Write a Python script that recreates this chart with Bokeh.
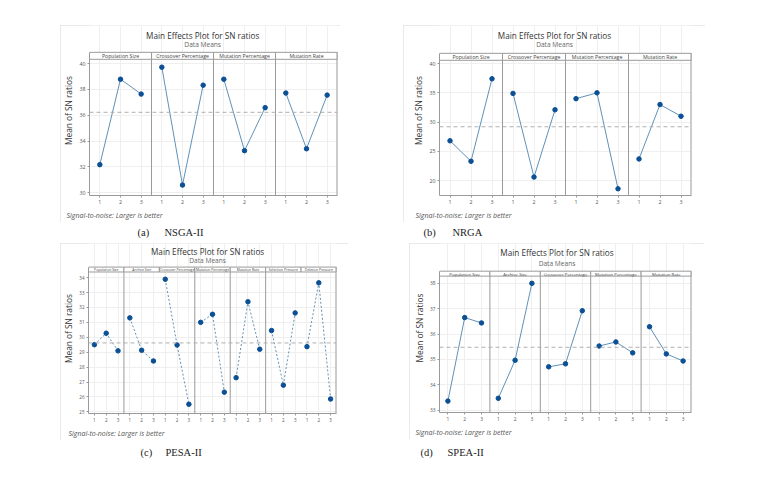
from bokeh.plotting import figure
from bokeh.models import Range1d, FixedTicker, Span, Label, Spacer, Title
from bokeh.layouts import column, row
from bokeh.embed import file_html
from bokeh.resources import INLINE
from bokeh.core.properties import value

# ---------------- data ----------------
levels = [1, 2, 3]

a_factors = ["Population Size", "Crossover Percentage", "Mutation Percentage", "Mutation Rate"]
a_values = [[32.18, 38.79, 37.64], [39.72, 30.60, 38.33], [38.79, 33.26, 36.59], [37.72, 33.41, 37.56]]
a_mean = 36.23
a_yticks = [30, 32, 34, 36, 38, 40]

b_factors = ["Population Size", "Crossover Percentage", "Mutation Percentage", "Mutation Rate"]
b_values = [[26.8, 23.3, 37.4], [34.9, 20.6, 32.1], [34.0, 35.0, 18.6], [23.7, 33.0, 31.0]]
b_mean = 29.2
b_yticks = [20, 25, 30, 35, 40]

c_factors = ["Population Size", "Archive Size", "Crossover Percentage", "Mutation Percentage",
             "Mutation Rate", "Selection Pressure", "Deletion Pressure"]
c_values = [[29.50, 30.27, 29.09], [31.30, 29.13, 28.41], [33.89, 29.48, 25.51], [31.00, 31.54, 26.32],
            [27.29, 32.38, 29.20], [30.45, 26.79, 31.63], [29.37, 33.65, 25.86]]
c_mean = 29.62
c_yticks = [25, 26, 27, 28, 29, 30, 31, 32, 33, 34]

d_factors = ["Population Size", "Archive Size", "Crossover Percentage", "Mutation Percentage", "Mutation Rate"]
d_values = [[33.36, 36.65, 36.44], [33.47, 34.97, 38.00], [34.71, 34.83, 36.92], [35.53, 35.69, 35.26],
            [36.29, 35.22, 34.94]]
d_mean = 35.48
d_yticks = [33, 34, 35, 36, 37, 38]

title_text = "Main Effects Plot for SN ratios"
subtitle_text = "Data Means"
ylabel_text = "Mean of SN ratios"
foot_text = "Signal-to-noise: Larger is better"
captions = [("(a)", "NSGA-II"), ("(b)", "NRGA"), ("(c)", "PESA-II"), ("(d)", "SPEA-II")]

FONT = "Open Sans"
LINE_C = "#5f92b8"
MARK_C = "#0b4f94"
FRAME_C = "#9a9a9a"


def make_card(factors, values, mean, yticks, W, H, bl, br, bb, anchor, head_top, head_h,
              dotted, seps, title_px, sub_px, foot_x, head_fs, tick_fs="5px", foot_standoff=5):
    # anchor: ((valueA, pxA), (valueB, pxB)) -- pixel rows measured from card top
    (vA, pA), (vB, pB) = anchor
    ppu = (pB - pA) / (vA - vB)

    def yv(px):
        return vA - (px - pA) / ppu

    ytop = yv(0)
    ybot = yv(H - bb)
    yht = yv(head_top)
    yhb = yv(head_top + head_h)

    n = len(factors)
    xend = 3 * n + 0.5
    p = figure(width=W, height=H, x_range=Range1d(0.5, xend), y_range=Range1d(ybot, ytop),
               toolbar_location=None, output_backend="svg",
               min_border_left=bl, min_border_right=br, min_border_top=0, min_border_bottom=bb)
    p.styles = {"outline": "1px solid #e2e2e2", "outline-offset": "-1px"}
    p.background_fill_color = "white"
    p.border_fill_color = "white"
    p.outline_line_color = None

    xt = [3 * k + j for k in range(n) for j in levels]
    p.xaxis.ticker = FixedTicker(ticks=xt)
    p.xaxis.major_label_overrides = {3 * k + j: str(j) for k in range(n) for j in levels}
    p.yaxis.ticker = FixedTicker(ticks=yticks)
    p.yaxis.bounds = (ybot, yht)
    p.xgrid.ticker = FixedTicker(ticks=xt)
    p.xgrid.bounds = (ybot, yhb)
    p.ygrid.ticker = FixedTicker(ticks=yticks)
    p.grid.grid_line_color = "#efefef"
    p.grid.grid_line_width = 1

    for ax in (p.xaxis[0], p.yaxis[0]):
        ax.axis_line_color = FRAME_C
        ax.major_tick_line_color = FRAME_C
        ax.minor_tick_line_color = None
        ax.major_tick_out = 2
        ax.major_tick_in = 0
        ax.major_label_standoff = 2
        ax.major_label_text_font = FONT
        ax.major_label_text_font_size = tick_fs
        ax.major_label_text_color = "#555555"
    p.yaxis.axis_label = ylabel_text
    p.yaxis.axis_label_text_font = FONT
    p.yaxis.axis_label_text_font_size = "8.3px"
    p.yaxis.axis_label_text_font_style = "normal"
    p.yaxis.axis_label_text_color = "#333333"
    p.yaxis.axis_label_standoff = 2

    # reference line
    p.add_layout(Span(location=mean, dimension="width", line_color="#b0b0b0",
                      line_dash="4 3", line_width=1))

    # header strips
    p.quad(left=[3 * k + 0.5 for k in range(n)], right=[3 * k + 3.5 for k in range(n)],
           bottom=[yhb] * n, top=[yht] * n, fill_color="white", line_color=FRAME_C, line_width=1)
    p.text(x=[3 * k + 2 for k in range(n)], y=[(yhb + yht) / 2] * n, text=factors,
           text_font=value(FONT), text_font_size=head_fs, text_align="center",
           text_baseline="middle", text_color="#444444")

    # panel separators and right edge
    sx = [3 * k + 0.5 for k in seps]
    p.segment(x0=sx, y0=[ybot] * len(sx), x1=sx, y1=[yhb] * len(sx), line_color=FRAME_C, line_width=1)
    p.segment(x0=[xend], y0=[ybot], x1=[xend], y1=[yht], line_color=FRAME_C, line_width=2)

    dash = "2 2" if dotted else "solid"
    for k, vals in enumerate(values):
        xs = [3 * k + j for j in levels]
        p.line(xs, vals, line_color=LINE_C, line_width=1, line_dash=dash)
        p.scatter(xs, vals, size=4.5, marker="circle", fill_color=MARK_C, line_color=MARK_C)

    xc = (0.5 + xend) / 2 - ((bl - br) / 2) * (xend - 0.5) / (W - bl - br)
    p.add_layout(Label(x=xc, y=yv(title_px), text=title_text, text_font=FONT, text_font_size="8.2px",
                       text_align="center", text_baseline="middle", text_color="#333333"))
    p.add_layout(Label(x=xc, y=yv(sub_px), text=subtitle_text, text_font=FONT, text_font_size="6.6px",
                       text_align="center", text_baseline="middle", text_color="#666666"))
    p.add_layout(Title(text=foot_text, align="left", offset=foot_x - bl, standoff=foot_standoff,
                       text_font=FONT, text_font_size="7px", text_font_style="italic",
                       text_color="#555555"), "below")
    return p


A = make_card(a_factors, a_values, a_mean, a_yticks, 280, 197, 25, 3, 26, ((40, 38.3), (30, 168.3)),
              27, 7, False, [1, 2, 3], 10, 19.5, 2, "5.2px", "5.3px")
B = make_card(b_factors, b_values, b_mean, b_yticks, 302, 197, 36, 14, 26, ((40, 38.3), (20, 156.0)),
              28, 7, False, [1, 2, 3], 10, 19.5, 12, "5.2px", "5.3px")
C = make_card(c_factors, c_values, c_mean, c_yticks, 288, 197, 22, 12, 24, ((34, 34.7), (25, 171.3)),
              24, 5, True, [1, 3, 4, 5], 8.5, 17, 2, "3.4px", "4.5px")
D = make_card(d_factors, d_values, d_mean, d_yticks, 295, 196, 30, 13, 25, ((38, 40.3), (33, 168.7)),
              28, 5, False, [1, 2, 3, 4], 9.5, 20, 6, "4.3px", "4.8px")


def caption_fig(y0, y1, items):
    f = figure(width=740, height=y1 - y0, x_range=Range1d(0, 740), y_range=Range1d(y1, y0),
               toolbar_location=None, output_backend="svg", x_axis_location=None, y_axis_location=None,
               min_border=0)
    f.outline_line_color = None
    f.grid.visible = False
    for (lab, name, x1, x2, y) in items:
        for t, x in ((lab, x1), (name, x2)):
            f.add_layout(Label(x=x, y=y, text=t, text_font="Liberation Serif", text_font_size="10.5px",
                               text_align="left", text_baseline="middle", text_color="#222222"))
    return f


cap1 = caption_fig(222, 243, [(captions[0][0], captions[0][1], 137, 164, 232),
                              (captions[1][0], captions[1][1], 423, 452, 232)])
cap2 = caption_fig(440, 470, [(captions[2][0], captions[2][1], 140, 165, 452),
                              (captions[3][0], captions[3][1], 420, 447, 452)])

layout = column(
    Spacer(width=10, height=25),
    row(Spacer(width=60, height=197), A, Spacer(width=63, height=197), B),
    cap1,
    row(Spacer(width=60, height=197), C, Spacer(width=61, height=197), D),
    cap2,
)

open("out.html", "w").write(file_html(layout, INLINE))
